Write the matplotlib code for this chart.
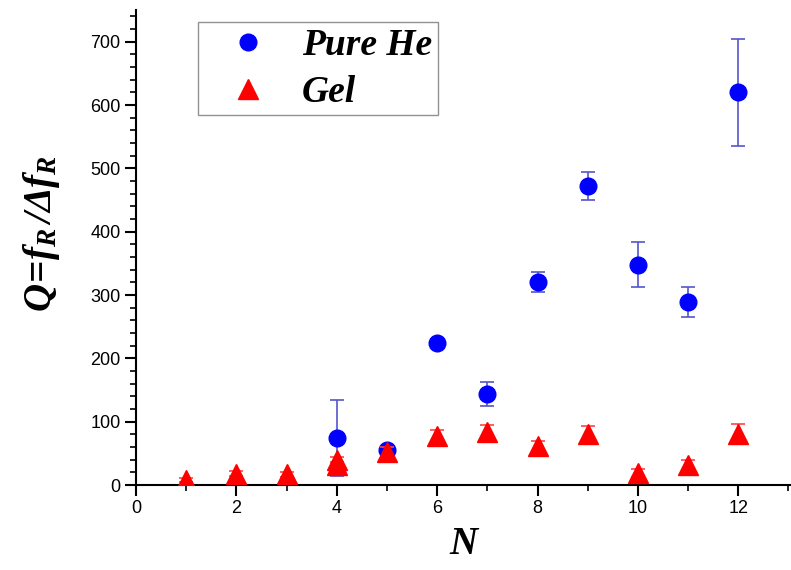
import matplotlib
matplotlib.use("Agg")
import matplotlib.pyplot as plt
from matplotlib.ticker import MultipleLocator
from matplotlib.lines import Line2D

plt.rcParams['mathtext.fontset'] = 'custom'
plt.rcParams['mathtext.rm'] = 'Liberation Serif:bold:italic'
plt.rcParams['mathtext.it'] = 'Liberation Serif:bold:italic'
plt.rcParams['mathtext.bf'] = 'Liberation Serif:bold:italic'

# Pure He data
he_N = [4, 5, 6, 7, 8, 9, 10, 11, 12]
he_Q = [75, 55, 225, 143, 320, 472, 348, 289, 620]
he_err = [60, 4, 3, 19, 16, 22, 35, 24, 85]

# Gel data
gel_N = [1, 2, 3, 4, 4, 5, 6, 7, 8, 9, 10, 11, 12]
gel_Q = [8, 18, 17, 39, 31, 52, 77, 84, 61, 81, 19, 31, 81]
gel_err = [3, 4, 4, 6, 6, 8, 10, 10, 8, 12, 6, 8, 15]

fig = plt.figure(figsize=(7.91, 5.70), dpi=100)
ax = fig.add_axes([136/791, 1-485/570, 1-136/791, (485-10)/570])

ax.errorbar(he_N, he_Q, yerr=he_err, fmt='o', color='#0000ff', ms=12,
            ecolor='#5555cc', elinewidth=1.2, capsize=5, capthick=1.2, zorder=3)
ax.errorbar(gel_N, gel_Q, yerr=gel_err, fmt='^', color='#ff0000', ms=14,
            ecolor='#ff4444', elinewidth=1.2, capsize=5, capthick=1.2, zorder=4)

ax.set_xlim(0, 13.05)
ax.set_ylim(0, 750)
ax.xaxis.set_major_locator(MultipleLocator(2))
ax.xaxis.set_minor_locator(MultipleLocator(1))
ax.yaxis.set_minor_locator(MultipleLocator(20))
ax.set_yticks([0, 100, 200, 300, 400, 500, 600, 700])

for s in ['top', 'right']:
    ax.spines[s].set_visible(False)
for s in ['left', 'bottom']:
    ax.spines[s].set_linewidth(1.5)

ax.tick_params(axis='both', which='major', direction='out', length=8, width=1.5,
               labelsize=13, pad=3)
ax.tick_params(axis='both', which='minor', direction='out', length=4.5, width=1.2)
for lab in ax.get_xticklabels() + ax.get_yticklabels():
    lab.set_fontfamily('Liberation Sans')

ax.set_xlabel('N', fontfamily='Liberation Serif', fontweight='bold', fontstyle='italic',
              fontsize=28, labelpad=6)
ax.set_ylabel(r'$Q\!=\!f_R\,/\Delta f_R$', fontsize=28)
ax.yaxis.set_label_coords(-0.113, 0.53)

handles = [Line2D([], [], ls='none', marker='o', color='#0000ff', ms=12),
           Line2D([], [], ls='none', marker='^', color='#ff0000', ms=14)]
leg = ax.legend(handles, ['Pure He', 'Gel'], loc='upper left',
                bbox_to_anchor=((198-136)/655, 1-(22-10)/475), borderaxespad=0,
                prop={'family': 'Liberation Serif', 'weight': 'bold', 'style': 'italic', 'size': 27},
                frameon=True, fancybox=False, edgecolor='#777777', handletextpad=0.25,
                borderpad=0.15, labelspacing=0.32, handlelength=2.37)
leg.get_frame().set_linewidth(1.0)

fig.savefig('out.png', dpi=100)
